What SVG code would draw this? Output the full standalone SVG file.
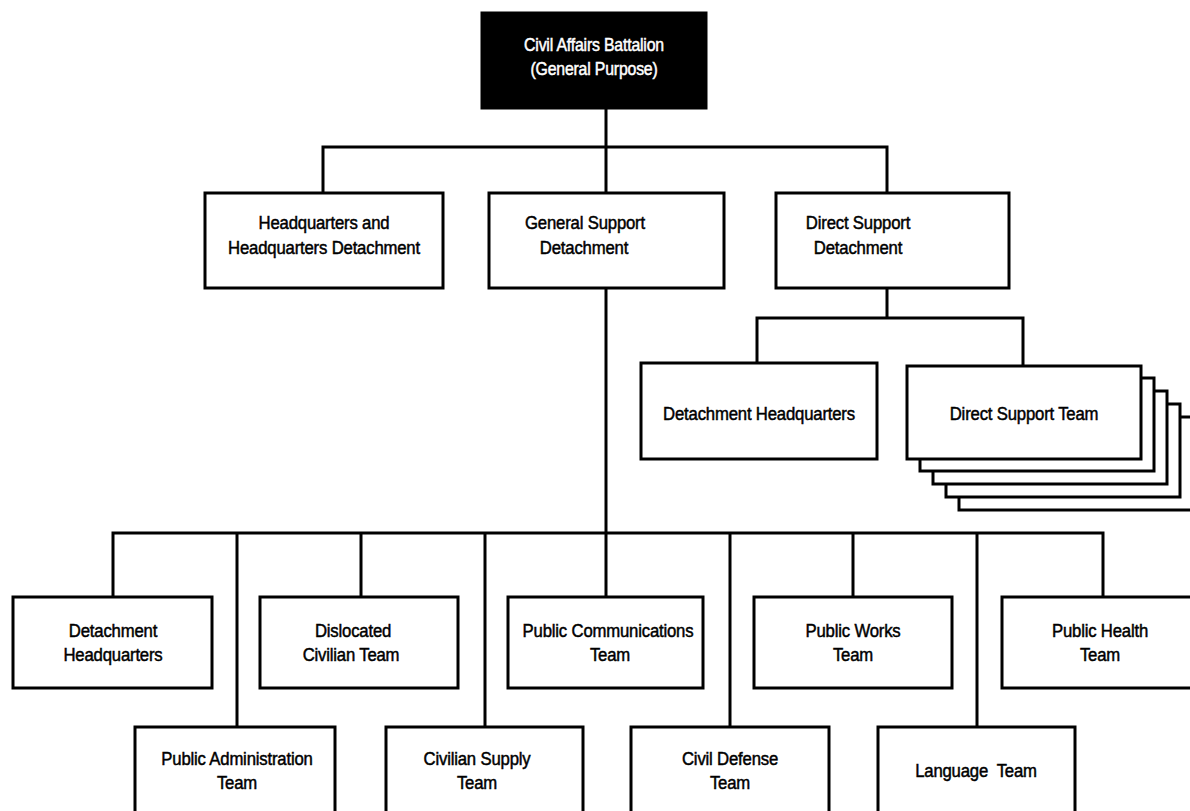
<svg xmlns="http://www.w3.org/2000/svg" width="1190" height="811" viewBox="0 0 1190 811">
  <style>
    .box { fill: #ffffff; stroke: #000000; stroke-width: 3; }
    .dark { fill: #000000; stroke: #000000; stroke-width: 3; }
    .link { fill: none; stroke: #000000; stroke-width: 3; stroke-linejoin: miter; }
    text { font-family: "Liberation Sans", Arial, sans-serif; font-size: 19px; text-anchor: middle; fill: #000000; stroke: #000000; stroke-width: 0.5px; letter-spacing: -0.2px; }
    .inv { fill: #ffffff; stroke: #ffffff; font-size: 18px; }
  </style>
  <rect width="1190" height="811" fill="#ffffff"/>

  <!-- connectors -->
  <g id="connectors">
    <!-- battalion to detachments -->
    <path class="link" d="M606 108 V147 M323 193 V147 H887 V193 M606 147 V193"/>
    <!-- direct support detachment to its elements -->
    <path class="link" d="M887 288 V318 M757 363 V318 H1023 V366"/>
    <!-- general support detachment to teams -->
    <path class="link" d="M606 288 V533"/>
    <path class="link" d="M113 597 V533 H1103 V597"/>
    <path class="link" d="M237 533 V727 M361 533 V597 M485 533 V727 M606 533 V597 M730 533 V727 M853 533 V597 M977 533 V727"/>
  </g>

  <!-- top -->
  <g id="battalion">
    <rect class="dark" x="482" y="13" width="224" height="95"/>
    <text class="inv" transform="translate(594 51) scale(0.88 1)">Civil Affairs Battalion</text>
    <text class="inv" transform="translate(594 75) scale(0.88 1)">(General Purpose)</text>
  </g>

  <!-- second level -->
  <g id="hhd">
    <rect class="box" x="205" y="193" width="238" height="95"/>
    <text transform="translate(324 229) scale(0.88 1)">Headquarters and</text>
    <text transform="translate(324 254) scale(0.88 1)">Headquarters Detachment</text>
  </g>
  <g id="gsd">
    <rect class="box" x="489" y="193" width="235" height="95"/>
    <text transform="translate(585 229) scale(0.88 1)">General Support</text>
    <text transform="translate(584 254) scale(0.88 1)">Detachment</text>
  </g>
  <g id="dsd">
    <rect class="box" x="776" y="193" width="233" height="95"/>
    <text transform="translate(858 229) scale(0.88 1)">Direct Support</text>
    <text transform="translate(858 254) scale(0.88 1)">Detachment</text>
  </g>

  <!-- direct support detachment elements -->
  <g id="dsd-hq">
    <rect class="box" x="641" y="363" width="236" height="96"/>
    <text transform="translate(759 420) scale(0.88 1)">Detachment Headquarters</text>
  </g>
  <g id="dst">
    <rect class="box" x="959" y="417" width="234" height="93"/>
    <rect class="box" x="946" y="404" width="234" height="93"/>
    <rect class="box" x="933" y="391" width="234" height="93"/>
    <rect class="box" x="920" y="378" width="234" height="93"/>
    <rect class="box" x="907" y="366" width="234" height="93"/>
    <text transform="translate(1024 420) scale(0.88 1)">Direct Support Team</text>
  </g>

  <!-- general support detachment teams, upper row -->
  <g id="gs-hq">
    <rect class="box" x="13" y="597" width="199" height="91"/>
    <text transform="translate(113 637) scale(0.88 1)">Detachment</text>
    <text transform="translate(113 661) scale(0.88 1)">Headquarters</text>
  </g>
  <g id="dislocated">
    <rect class="box" x="260" y="597" width="198" height="91"/>
    <text transform="translate(353 637) scale(0.88 1)">Dislocated</text>
    <text transform="translate(351 661) scale(0.88 1)">Civilian Team</text>
  </g>
  <g id="communications">
    <rect class="box" x="508" y="597" width="195" height="91"/>
    <text transform="translate(608 637) scale(0.88 1)">Public Communications</text>
    <text transform="translate(610 661) scale(0.88 1)">Team</text>
  </g>
  <g id="works">
    <rect class="box" x="754" y="597" width="198" height="91"/>
    <text transform="translate(853 637) scale(0.88 1)">Public Works</text>
    <text transform="translate(853 661) scale(0.88 1)">Team</text>
  </g>
  <g id="health">
    <rect class="box" x="1002" y="597" width="200" height="91"/>
    <text transform="translate(1100 637) scale(0.88 1)">Public Health</text>
    <text transform="translate(1100 661) scale(0.88 1)">Team</text>
  </g>

  <!-- general support detachment teams, lower row -->
  <g id="administration">
    <rect class="box" x="135" y="727" width="200" height="100"/>
    <text transform="translate(237 765) scale(0.88 1)">Public Administration</text>
    <text transform="translate(237 789) scale(0.88 1)">Team</text>
  </g>
  <g id="supply">
    <rect class="box" x="386" y="727" width="197" height="100"/>
    <text transform="translate(477 765) scale(0.88 1)">Civilian Supply</text>
    <text transform="translate(477 789) scale(0.88 1)">Team</text>
  </g>
  <g id="defense">
    <rect class="box" x="631" y="727" width="198" height="100"/>
    <text transform="translate(730 765) scale(0.88 1)">Civil Defense</text>
    <text transform="translate(730 789) scale(0.88 1)">Team</text>
  </g>
  <g id="language">
    <rect class="box" x="878" y="727" width="197" height="100"/>
    <text transform="translate(976 777) scale(0.88 1)" xml:space="preserve">Language  Team</text>
  </g>
</svg>
